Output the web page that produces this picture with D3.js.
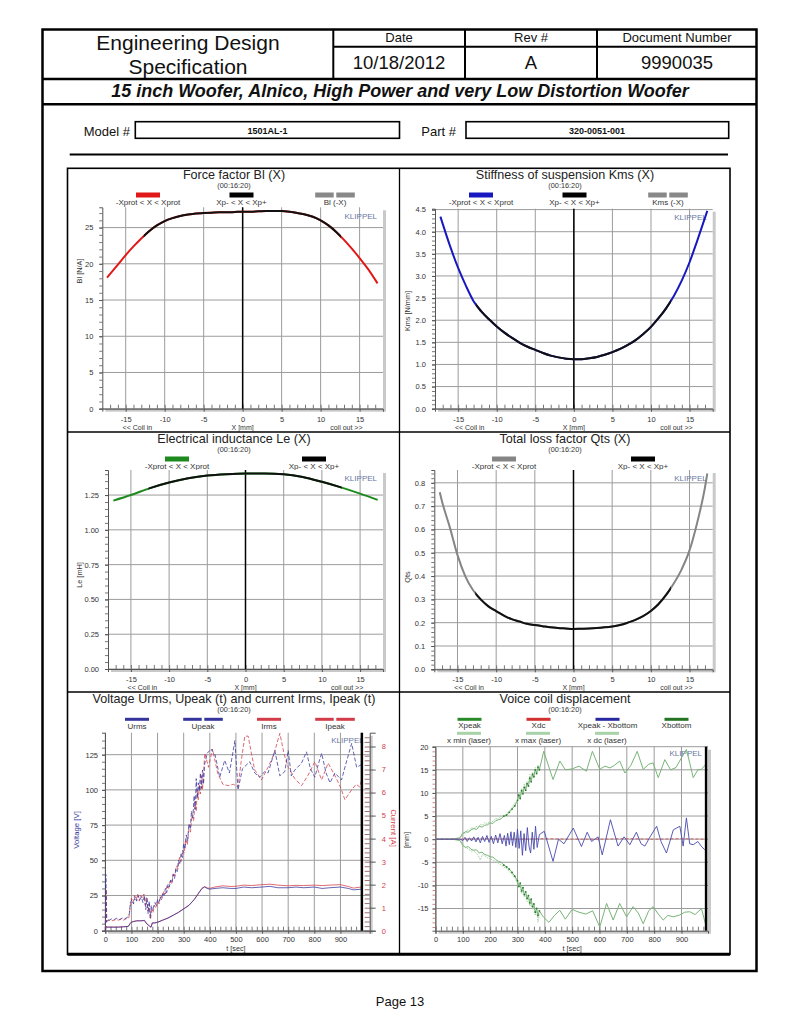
<!DOCTYPE html>
<html><head><meta charset="utf-8">
<script src="https://cdn.jsdelivr.net/npm/d3@7"></script>
<style>body{margin:0;background:#fff}svg{display:block}</style>
</head><body>
<script>
// ================= DATA =================
const headerTitle = ["Engineering Design", "Specification"];
const headerLabels = ["Date", "Rev #", "Document Number"];
const headerValues = ["10/18/2012", "A", "9990035"];
const docTitle = "15 inch Woofer, Alnico, High Power and very Low Distortion Woofer";
const modelNo = "1501AL-1";
const partNo = "320-0051-001";
const pageLabel = "Page 13";
const timestamp = "(00:16:20)";

const xTicksX = [-15, -10, -5, 0, 5, 10, 15];
const tTicks = [0, 100, 200, 300, 400, 500, 600, 700, 800, 900];
const xpRange = [-12.7, 12.6];   // Xp- .. Xp+ (black part of the curves)

// Force factor Bl(X)
const blX = [-17.4,-16,-15,-14,-13,-12,-11,-10,-9,-8,-7,-6,-5,-4,-3,-2,-1,0,1,2,3,4,5,6,7,8,9,10,11,12,13,14,15,16,17.3];
const blVals = [18.1,19.9,21.2,22.4,23.5,24.5,25.3,25.9,26.3,26.6,26.8,26.95,27.0,27.05,27.1,27.1,27.15,27.2,27.2,27.25,27.3,27.3,27.3,27.2,27.0,26.8,26.5,26.0,25.3,24.4,23.3,22.1,20.8,19.4,17.3];
const blTicks = [0, 5, 10, 15, 20, 25];

// Stiffness Kms(X)
const kmsX = [-17.3,-16,-15,-14,-13,-12,-11,-10,-9,-8,-7,-6,-5,-4,-3,-2,-1,0,1,2,3,4,5,6,7,8,9,10,11,12,13,14,15,16,17.3];
const kmsVals = [4.34,3.65,3.18,2.78,2.43,2.20,2.02,1.86,1.72,1.60,1.49,1.40,1.33,1.26,1.20,1.16,1.13,1.12,1.12,1.14,1.17,1.22,1.28,1.35,1.44,1.55,1.69,1.85,2.05,2.28,2.56,2.90,3.31,3.80,4.47];
const kmsTicks = [0, 0.5, 1.0, 1.5, 2.0, 2.5, 3.0, 3.5, 4.0, 4.5];

// Electrical inductance Le(X)
const leX = [-17.3,-15,-12.5,-10,-7.5,-5,-2.5,0,2.5,5,7.5,10,12.5,15,17.3];
const leVals = [1.21,1.25,1.30,1.34,1.37,1.39,1.40,1.405,1.405,1.40,1.38,1.345,1.305,1.26,1.215];
const leTicks = [0, 0.25, 0.5, 0.75, 1.0, 1.25];

// Total loss factor Qts(X)
const qtsX = [-17.3,-17,-16,-15,-14,-13,-12,-11,-10,-9,-8,-7,-6,-5,-4,-3,-2,-1,0,1,2,3,4,5,6,7,8,9,10,11,12,13,14,15,16,17,17.3];
const qtsVals = [0.76,0.72,0.61,0.49,0.40,0.34,0.30,0.27,0.25,0.23,0.215,0.205,0.195,0.19,0.185,0.18,0.177,0.175,0.173,0.174,0.175,0.177,0.18,0.184,0.19,0.20,0.212,0.228,0.25,0.28,0.32,0.37,0.43,0.51,0.63,0.78,0.84];
const qtsTicks = [0, 0.1, 0.2, 0.3, 0.4, 0.5, 0.6, 0.7, 0.8];

// Voltage / current vs time  [t sec, value]
const upeak = [[0,0],[2,40],[5,6],[8,8],[15,7.5],[25,8.5],[35,8],[45,9],[55,8],[65,9],[75,8.5],[85,9.5],[92,12],[96,20],[102,22],[108,19],[114,24],[120,21],[126,25],[132,22],[138,24],[144,20],[150,25],[155,15],[160,23],[164,12],[168,21],[172,9],[176,18],[180,14],[185,17],[190,20],[195,18],[200,22],[205,20],[210,24],[215,22],[220,27],[225,25],[230,30],[235,27],[240,33],[245,31],[250,36],[255,34],[260,40],[265,37],[270,44],[275,42],[280,50],[285,47],[290,55],[295,52],[300,62],[305,58],[310,68],[315,64],[320,76],[325,72],[330,85],[335,80],[340,96],[344,86],[348,108],[352,94],[356,105],[360,99],[364,112],[368,101],[372,114],[376,104],[380,118],[390,126],[405,129],[420,125],[438,109],[457,121],[475,112],[496,135],[508,100],[525,115],[553,120],[572,112],[591,109],[610,113],[623,112],[649,128],[668,110],[687,113],[700,128],[712,110],[725,114],[751,119],[770,127],[785,115],[802,109],[815,118],[828,126],[845,112],[860,105],[879,112],[904,107],[920,118],[943,133],[962,116],[981,118]];
const ipeak = [[0,0],[3,1.8],[6,0.43],[10,0.43],[20,0.46],[30,0.43],[40,0.49],[50,0.46],[60,0.49],[70,0.46],[80,0.52],[90,0.55],[95,0.98],[100,1.41],[106,1.22],[112,1.53],[118,1.35],[124,1.59],[130,1.29],[136,1.53],[142,1.41],[148,1.59],[153,1.10],[158,1.47],[163,0.86],[168,1.16],[173,0.49],[178,0.92],[183,0.80],[188,1.10],[194,0.98],[200,1.29],[206,1.16],[212,1.53],[218,1.41],[224,1.71],[230,1.59],[236,1.96],[242,1.84],[248,2.14],[254,2.02],[260,2.51],[266,2.39],[272,2.82],[278,2.69],[284,3.18],[290,3.0],[296,3.49],[302,3.37],[308,3.98],[314,3.73],[320,4.41],[326,4.28],[332,5.02],[338,4.77],[344,5.63],[348,5.2],[352,6.12],[356,5.69],[360,6.36],[364,5.94],[368,6.73],[372,6.12],[376,6.85],[381,7.71],[395,7.1],[410,7.89],[430,6.85],[450,6.36],[470,6.3],[490,6.36],[508,6.24],[520,7.34],[534,8.45],[547,8.45],[560,7.65],[572,6.98],[598,6.55],[623,7.1],[645,7.65],[668,8.57],[685,7.65],[700,7.1],[725,6.61],[751,6.3],[775,6.73],[802,7.34],[828,6.55],[853,7.28],[879,6.73],[900,6.24],[917,5.69],[943,6.12],[960,6.36],[974,6.24],[983,6.67]];
const urms = [[0,0],[3,3],[6,2.5],[10,2.5],[30,2.5],[50,2.5],[70,2.8],[88,3],[95,5],[100,6],[110,6.5],[120,7],[130,7],[140,7],[150,7.2],[158,5],[165,4],[170,3],[175,2.5],[180,5.5],[190,5.5],[200,6],[220,7.5],[240,9],[260,11],[280,13],[300,15.5],[320,18],[340,22],[355,26],[370,30],[380,31],[390,30],[400,29.5],[420,30],[450,30.5],[480,30],[500,30],[530,31],[560,30.5],[600,31],[630,31.5],[660,30.5],[700,30.5],[730,31],[760,30.5],[800,31],[830,30],[860,30.5],[900,31],[930,30],[950,29],[980,29.5]];
const irms = [[0,0],[3,0.2],[6,0.15],[10,0.16],[30,0.16],[50,0.16],[70,0.17],[88,0.19],[95,0.32],[100,0.38],[110,0.41],[120,0.43],[130,0.43],[140,0.44],[150,0.45],[158,0.31],[165,0.25],[170,0.2],[175,0.15],[180,0.34],[190,0.34],[200,0.37],[220,0.46],[240,0.55],[260,0.67],[280,0.8],[300,0.95],[320,1.1],[340,1.35],[355,1.6],[370,1.84],[380,1.92],[390,1.86],[400,1.84],[420,1.9],[450,1.95],[480,1.92],[500,1.93],[530,1.98],[560,1.96],[600,2.0],[630,2.02],[660,1.98],[700,1.95],[730,1.97],[760,1.96],[800,1.98],[830,1.96],[860,1.98],[900,2.0],[930,1.92],[950,1.85],[980,1.9]];
const voltTicks = [0, 25, 50, 75, 100, 125];
const currTicks = [0, 1, 2, 3, 4, 5, 6, 7, 8];
const endTimeV = 982;

// Voice coil displacement [t sec, mm]
const xpeak = [[0,0],[60,0],[90,0.3],[100,1.2],[110,1.6],[120,1.5],[130,2.0],[140,2.3],[150,2.1],[160,2.8],[170,2.6],[180,3.0],[190,3.1],[200,3.5],[210,3.4],[220,4.0],[230,4.2],[240,4.4],[250,5.0],[260,5.2],[270,5.8],[280,6.5],[290,7.2],[300,8.4],[305,9.5],[310,8.8],[315,10.5],[320,9.8],[325,11.2],[330,10.6],[335,12.0],[340,11.5],[345,13.2],[350,12.4],[355,14.0],[360,13.5],[365,15.0],[370,14.2],[375,15.6],[380,15.0],[396,19.0],[430,12.9],[455,16.9],[475,15.0],[500,15.2],[525,15.8],[552,14.7],[574,19.0],[601,15.1],[620,15.8],[638,15.4],[655,16.0],[674,16.9],[693,14.3],[715,16.0],[738,19.0],[760,15.1],[780,16.2],[796,16.5],[815,13.3],[839,17.2],[860,15.0],[880,15.5],[900,17.6],[918,19.4],[930,16.5],[943,13.3],[960,15.0],[973,15.1],[989,16.2]];
const xbottom = [[0,0],[60,0],[90,-0.3],[100,-1.2],[110,-1.8],[120,-1.6],[130,-2.2],[140,-2.4],[150,-2.3],[160,-3.0],[170,-2.8],[180,-3.3],[190,-3.5],[200,-3.8],[210,-3.9],[220,-4.4],[230,-4.8],[240,-5.0],[250,-5.6],[260,-6.0],[270,-6.5],[280,-7.2],[290,-8.0],[300,-9.0],[305,-10.2],[310,-9.5],[315,-11.2],[320,-10.5],[325,-12.0],[330,-11.4],[335,-12.8],[340,-12.2],[345,-13.8],[350,-13.0],[355,-14.6],[360,-14.0],[365,-15.8],[370,-15.0],[375,-16.5],[380,-15.5],[394,-16.8],[415,-18.0],[435,-16.5],[455,-15.4],[475,-17.3],[500,-15.2],[525,-15.8],[550,-16.2],[575,-15.5],[601,-19.0],[626,-13.9],[650,-17.5],[674,-13.9],[699,-16.8],[723,-14.6],[742,-16.0],[760,-18.3],[780,-15.5],[796,-14.6],[815,-16.2],[833,-17.5],[850,-16.5],[870,-16.8],[894,-16.4],[912,-15.8],[930,-15.7],[950,-16.3],[973,-15.0],[989,-18.6]];
const xdiff = [[0,0],[60,0],[90,0],[100,-0.3],[108,0.4],[116,-0.5],[124,0.3],[132,-0.4],[140,0.5],[148,-0.6],[156,0.4],[164,-0.8],[172,0.6],[180,-0.5],[188,0.8],[196,-0.7],[204,0.6],[212,-1.0],[220,0.9],[228,-0.8],[236,1.2],[244,-1.0],[252,0.8],[258,-1.5],[264,1.3],[270,-1.2],[276,1.6],[282,-1.4],[288,1.5],[294,-1.8],[300,2.2],[306,-2.0],[312,1.8],[318,-3.5],[324,1.2],[330,-2.5],[336,2.5],[342,-1.5],[348,-3.0],[354,1.5],[360,-2.2],[366,2.8],[372,-1.8],[380,1.0],[398,1.7],[430,-4.8],[450,0],[470,-1],[504,2.4],[534,-1.6],[555,1.5],[571,-0.5],[595,0.5],[610,-3.4],[640,4.2],[668,-1.5],[690,0.5],[711,-1.2],[735,1.5],[752,-1.0],[766,-1.5],[785,0.5],[809,2.8],[825,-0.5],[845,-3],[870,2],[894,2.8],[906,-1.5],[918,4.6],[930,-1.0],[943,-1.2],[960,-0.5],[972,-1.5],[985,-2.3]];
const xdc = [[0,0],[100,0],[200,0.1],[300,0],[400,0.1],[500,0],[600,0],[700,0.1],[800,0],[900,0.1],[990,0]];
const xmaxLaser = [[90,0.5],[100,1.5],[108,1.2],[116,2.0],[124,1.7],[132,2.5],[140,2.2],[148,2.8],[156,2.4],[164,3.2],[172,3.0],[180,3.6],[190,3.3],[200,4.0],[210,3.8],[220,4.5],[230,4.3],[240,5.0],[250,4.8],[260,5.5],[270,6.2],[280,6.8],[290,7.8],[300,8.0],[305,10],[310,9.0],[315,11],[320,10.2],[325,12],[330,11],[335,12.5],[340,12],[345,14],[350,12.8],[355,14.5],[360,13.8],[365,15.5],[370,14.5],[375,16],[380,15.2]];
const xminLaser = [[90,-0.5],[100,-1.5],[108,-1.8],[116,-2.0],[124,-2.3],[132,-2.6],[140,-2.5],[148,-3.0],[156,-3.5],[164,-4.5],[172,-3.3],[180,-3.6],[190,-4.0],[200,-4.2],[210,-4.6],[220,-4.8],[230,-5.2],[240,-5.6],[250,-6.0],[260,-6.4],[270,-7.0],[280,-7.6],[290,-8.4],[300,-9.5],[305,-10.5],[310,-10],[315,-11.8],[320,-11],[325,-12.5],[330,-12],[335,-13.5],[340,-12.8],[345,-14.5],[350,-13.6],[355,-15.2],[360,-14.5],[365,-16.5],[370,-15.5],[375,-18],[380,-16]];
const dispTicks = [-15, -10, -5, 0, 5, 10, 15, 20];
const endTimeD = 990;

// ================= DRAWING =================
const FONT = '"Liberation Sans", Arial, Helvetica, sans-serif';
const svg = d3.select('body').append('svg').attr('width', 800).attr('height', 1035)
  .attr('font-family', FONT);

function txt(parent, x, y, s, o = {}) {
  const t = parent.append('text').attr('x', x).attr('y', y).text(s)
    .attr('font-size', o.size || 10).attr('text-anchor', o.anchor || 'middle')
    .attr('fill', o.fill || '#111');
  if (o.weight) t.attr('font-weight', o.weight);
  if (o.style) t.attr('font-style', o.style);
  if (o.len) t.attr('textLength', o.len).attr('lengthAdjust', 'spacingAndGlyphs');
  if (o.rotate) t.attr('transform', `rotate(${o.rotate},${x},${y})`).attr('dominant-baseline', 'central');
  return t;
}
function ln(parent, x1, y1, x2, y2, w, c) {
  return parent.append('line').attr('x1', x1).attr('y1', y1).attr('x2', x2).attr('y2', y2)
    .attr('stroke', c || '#000').attr('stroke-width', w || 1);
}

// ---- page header ----
svg.append('rect').attr('x', 42.5).attr('y', 29.5).attr('width', 714).attr('height', 941.5)
  .attr('fill', 'none').attr('stroke', '#000').attr('stroke-width', 2.5);
[333.3, 465, 597].forEach(xv => ln(svg, xv, 29.5, xv, 79, 2));
ln(svg, 333.3, 46.7, 756.5, 46.7, 2);
ln(svg, 42.5, 79, 756.5, 79, 2.5);
ln(svg, 42.5, 104.3, 756.5, 104.3, 2.5);
txt(svg, 188, 50, headerTitle[0], {size: 21});
txt(svg, 188, 73.5, headerTitle[1], {size: 21});
const cellCx = [399, 531, 677];
headerLabels.forEach((s, i) => txt(svg, cellCx[i], 42.3, s, {size: 13}));
headerValues.forEach((s, i) => txt(svg, cellCx[i], 68.5, s, {size: 18.5}));
txt(svg, 400, 96.7, docTitle, {size: 18, weight: 'bold', style: 'italic'});

txt(svg, 130, 136, 'Model #', {size: 13, anchor: 'end'});
svg.append('rect').attr('x', 135.3).attr('y', 121.7).attr('width', 264.2).attr('height', 16.6)
  .attr('fill', 'none').attr('stroke', '#000').attr('stroke-width', 1.6);
txt(svg, 267.4, 133.6, modelNo, {size: 9, weight: 'bold'});
txt(svg, 456, 136, 'Part #', {size: 13, anchor: 'end'});
svg.append('rect').attr('x', 466).attr('y', 121.7).attr('width', 262.7).attr('height', 16.6)
  .attr('fill', 'none').attr('stroke', '#000').attr('stroke-width', 1.6);
txt(svg, 597, 133.6, partNo, {size: 9, weight: 'bold'});
ln(svg, 69.7, 154.5, 728, 154.5, 2);

// ---- chart box ----
svg.append('rect').attr('x', 67.5).attr('y', 168.3).attr('width', 662.5).attr('height', 786)
  .attr('fill', 'none').attr('stroke', '#000').attr('stroke-width', 1.6);
ln(svg, 67.5, 954.3, 730, 954.3, 3);
ln(svg, 399.5, 168.3, 399.5, 954.3, 1.3);
ln(svg, 67.5, 432, 730, 432, 1.3);
ln(svg, 67.5, 692, 730, 692, 1.3);
txt(svg, 400, 1006, pageLabel, {size: 13});

// ---- helpers for panels ----
const GRID = '#9c9c9c';
function frame(g, p) {
  g.append('rect').attr('x', p.x0 + 3).attr('y', p.y0 + 3).attr('width', p.x1 - p.x0).attr('height', p.y1 - p.y0).attr('fill', '#c9c9c9');
  g.append('rect').attr('x', p.x0).attr('y', p.y0).attr('width', p.x1 - p.x0).attr('height', p.y1 - p.y0).attr('fill', '#fff');
}
function styleAxis(sel, col) {
  sel.attr('font-family', FONT).attr('font-size', 7.5);
  sel.select('.domain').attr('stroke', '#555');
  sel.selectAll('.tick line').attr('stroke', '#555');
  sel.selectAll('.tick text').attr('fill', col || '#333');
}
function minor(g, axis, tr, col) {
  const a = g.append('g').attr('transform', tr).call(axis.tickFormat(''));
  a.select('.domain').remove();
  a.selectAll('line').attr('stroke', col || '#777');
}
function head(g, cx, top, title) {
  txt(g, cx, top + 10.6, title, {size: 12.6, fill: '#222'});
  txt(g, cx, top + 19.6, timestamp, {size: 7.3, fill: '#333'});
}
function legend(g, items, left, step, swY, lblY, swH) {
  items.forEach((it, i) => {
    const cx = left + step * i;
    if (it.color) {
      if (it.dash) {
        g.append('rect').attr('x', cx - 19.8).attr('y', swY - swH / 2).attr('width', 18.5).attr('height', swH).attr('fill', it.color);
        g.append('rect').attr('x', cx + 1.3).attr('y', swY - swH / 2).attr('width', 18.5).attr('height', swH).attr('fill', it.color);
      } else {
        g.append('rect').attr('x', cx - 12).attr('y', swY - swH / 2).attr('width', 24).attr('height', swH).attr('fill', it.color);
      }
    }
    txt(g, cx, lblY, it.label, {size: 8, fill: '#333'});
  });
}
function klippel(g, p, dy) {
  txt(g, p.x1 - 6, p.y0 + (dy || 11.4), 'KLIPPEL', {size: 8, anchor: 'end', fill: '#6a78a4'});
}

// ---- X panels ----
function xPanel(p) {
  const g = svg.append('g');
  head(g, p.cx, p.top, p.title);
  legend(g, p.legend, p.legLeft, p.legStep, p.top + 27, p.top + 36.5, 5);
  const x = d3.scaleLinear().domain([-18, 18]).range([p.x0, p.x1]);
  const y = d3.scaleLinear().domain([0, p.yMax]).range([p.y1, p.y0]);
  frame(g, p);
  g.append('g').selectAll('line').data(xTicksX).join('line')
    .attr('x1', d => x(d)).attr('x2', d => x(d)).attr('y1', p.y0).attr('y2', p.y1).attr('stroke', GRID);
  g.append('g').selectAll('line').data(p.yTicks).join('line')
    .attr('x1', p.x0).attr('x2', p.x1).attr('y1', d => y(d)).attr('y2', d => y(d)).attr('stroke', GRID);
  minor(g, d3.axisLeft(y).tickValues(d3.range(0, p.yMax, p.yMinor)).tickSize(3), `translate(${p.x0},0)`);
  minor(g, d3.axisBottom(x).tickValues(d3.range(-17, 18, 1)).tickSize(-4), `translate(0,${p.y1})`);
  styleAxis(g.append('g').attr('transform', `translate(${p.x0},0)`)
    .call(d3.axisLeft(y).tickValues(p.yTicks).tickSize(3).tickPadding(6).tickFormat(d => d.toFixed(p.dec))));
  styleAxis(g.append('g').attr('transform', `translate(0,${p.y1})`)
    .call(d3.axisBottom(x).tickValues(xTicksX).tickSize(3).tickPadding(4.5).tickFormat(d => String(d))));
  txt(g, p.ylx, p.yly, p.ylabel, {size: 7.3, rotate: -90, fill: '#333'});
  txt(g, x(-13.5), p.y1 + 21, '<< Coil in', {size: 7, fill: '#333'});
  txt(g, x(0), p.y1 + 21, 'X [mm]', {size: 7, fill: '#333'});
  txt(g, x(13.3), p.y1 + 21, 'coil out >>', {size: 7, fill: '#333'});
  klippel(g, p);
  // zero line
  ln(g, x(0), p.y0, x(0), p.y1, 1.5, '#000');
  const line = d3.line().x(d => x(d[0])).y(d => y(d[1])).curve(d3.curveMonotoneX);
  const pts = d3.zip(p.xs, p.vals);
  g.append('path').attr('d', line(pts)).attr('fill', 'none').attr('stroke', p.color).attr('stroke-width', 2);
  const id = 'clip' + p.id;
  g.append('clipPath').attr('id', id).append('rect')
    .attr('x', x(xpRange[0])).attr('y', p.y0 - 5).attr('width', x(xpRange[1]) - x(xpRange[0])).attr('height', p.y1 - p.y0 + 10);
  g.append('path').attr('d', line(pts)).attr('fill', 'none').attr('stroke', '#111').attr('stroke-width', 2)
    .attr('clip-path', `url(#${id})`);
}

const RED = '#e01818', BLUE = '#1818c0', GREEN = '#1c8a1c', GREYC = '#858585';
xPanel({id: 1, title: 'Force factor Bl (X)', cx: 234, top: 168, x0: 102.3, x1: 383, y0: 207.3, y1: 408.7,
  yMax: 27.8, yTicks: blTicks, yMinor: 1, dec: 0, xs: blX, vals: blVals, color: RED,
  ylabel: 'Bl [N/A]', ylx: 79, yly: 271, legLeft: 148, legStep: 93.5,
  legend: [{label: '-Xprot < X < Xprot', color: RED}, {label: 'Xp- < X < Xp+', color: '#000'}, {label: 'Bl (-X)', color: '#888', dash: true}]});
xPanel({id: 2, title: 'Stiffness of suspension Kms (X)', cx: 565, top: 168, x0: 435, x1: 712.7, y0: 208.7, y1: 408.7,
  yMax: 4.52, yTicks: kmsTicks, yMinor: 0.1, dec: 1, xs: kmsX, vals: kmsVals, color: BLUE,
  ylabel: 'Kms [N/mm]', ylx: 407, yly: 311, legLeft: 481, legStep: 93.5,
  legend: [{label: '-Xprot < X < Xprot', color: BLUE}, {label: 'Xp- < X < Xp+', color: '#000'}, {label: 'Kms (-X)', color: '#888', dash: true}]});
xPanel({id: 3, title: 'Electrical inductance Le (X)', cx: 234, top: 432, x0: 108, x1: 383, y0: 470, y1: 669,
  yMax: 1.43, yTicks: leTicks, yMinor: 0.05, dec: 2, xs: leX, vals: leVals, color: GREEN,
  ylabel: 'Le [mH]', ylx: 79, yly: 575, legLeft: 177, legStep: 137,
  legend: [{label: '-Xprot < X < Xprot', color: GREEN}, {label: 'Xp- < X < Xp+', color: '#000'}]});
xPanel({id: 4, title: 'Total loss factor Qts (X)', cx: 565, top: 432, x0: 434.3, x1: 712.7, y0: 470, y1: 669.3,
  yMax: 0.855, yTicks: qtsTicks, yMinor: 0.02, dec: 1, xs: qtsX, vals: qtsVals, color: GREYC,
  ylabel: 'Qts', ylx: 407, yly: 577, legLeft: 504, legStep: 139,
  legend: [{label: '-Xprot < X < Xprot', color: GREYC}, {label: 'Xp- < X < Xp+', color: '#000'}]});

// ---- Voltage / current panel ----
(function () {
  const p = {top: 692, cx: 234, x0: 105, x1: 369.7, y0: 732.7, y1: 930.7};
  const g = svg.append('g');
  const VB = '#34349c', IR = '#d23c48';
  head(g, p.cx, p.top, 'Voltage Urms, Upeak (t) and current Irms, Ipeak (t)');
  legend(g, [{label: 'Urms', color: VB}, {label: 'Upeak', color: VB, dash: true}, {label: 'Irms', color: IR}, {label: 'Ipeak', color: IR, dash: true}],
    137, 66, p.top + 27.3, p.top + 36.5, 3);
  const x = d3.scaleLinear().domain([0, 1012]).range([105.3, p.x1]);
  const yV = d3.scaleLinear().domain([0, 140.6]).range([p.y1, p.y0]);
  const yA = d3.scaleLinear().domain([0, 8.6]).range([p.y1, p.y0]);
  frame(g, p);
  g.append('g').selectAll('line').data(tTicks).join('line')
    .attr('x1', d => x(d)).attr('x2', d => x(d)).attr('y1', p.y0).attr('y2', p.y1).attr('stroke', GRID);
  g.append('g').selectAll('line').data(voltTicks).join('line')
    .attr('x1', p.x0).attr('x2', p.x1).attr('y1', d => yV(d)).attr('y2', d => yV(d)).attr('stroke', GRID);
  minor(g, d3.axisLeft(yV).tickValues(d3.range(0, 140, 5)).tickSize(3), `translate(${p.x0},0)`);
  minor(g, d3.axisBottom(x).tickValues(d3.range(0, 1000, 20)).tickSize(-4), `translate(0,${p.y1})`);
  minor(g, d3.axisRight(yA).tickValues(d3.range(0, 8.6, 0.2)).tickSize(-5), `translate(${p.x1},0)`, '#a07070');
  styleAxis(g.append('g').attr('transform', `translate(${p.x0},0)`)
    .call(d3.axisLeft(yV).tickValues(voltTicks).tickSize(3).tickPadding(4).tickFormat(d => String(d))));
  styleAxis(g.append('g').attr('transform', `translate(0,${p.y1})`)
    .call(d3.axisBottom(x).tickValues(tTicks).tickSize(3).tickPadding(3).tickFormat(d => String(d))));
  styleAxis(g.append('g').attr('transform', `translate(${p.x1},0)`)
    .call(d3.axisRight(yA).tickValues(currTicks).tickSize(6).tickPadding(6).tickFormat(d => String(d))), IR);
  txt(g, 76, 830, 'Voltage [V]', {size: 7.8, rotate: -90, fill: VB});
  txt(g, 393, 828, 'Current [A]', {size: 7.8, rotate: 90, fill: IR});
  txt(g, x(500), p.y1 + 20.3, 't [sec]', {size: 7.3, fill: '#333'});
  klippel(g, p, 10);
  const lv = d3.line().x(d => x(d[0])).y(d => yV(d[1]));
  const la = d3.line().x(d => x(d[0])).y(d => yA(d[1]));
  g.append('path').attr('d', la(ipeak)).attr('fill', 'none').attr('stroke', IR).attr('stroke-width', 0.9).attr('stroke-dasharray', '4,2').attr('opacity', 0.85);
  g.append('path').attr('d', lv(upeak)).attr('fill', 'none').attr('stroke', VB).attr('stroke-width', 0.9).attr('stroke-dasharray', '4,2').attr('opacity', 0.85);
  g.append('path').attr('d', la(irms)).attr('fill', 'none').attr('stroke', IR).attr('stroke-width', 0.9).attr('opacity', 0.85);
  g.append('path').attr('d', lv(urms)).attr('fill', 'none').attr('stroke', VB).attr('stroke-width', 0.9).attr('opacity', 0.85);
  ln(g, x(endTimeV), p.y0, x(endTimeV), p.y1, 2.5, '#000');
})();

// ---- Voice coil displacement panel ----
(function () {
  const p = {top: 692, cx: 565, x0: 435.5, x1: 708, y0: 746.7, y1: 930.7};
  const g = svg.append('g');
  const G1 = '#2a8a2a', LG = '#a8d2a8';
  head(g, p.cx, p.top, 'Voice coil displacement');
  legend(g, [{label: 'Xpeak', color: G1}, {label: 'Xdc', color: '#d03030'}, {label: 'Xpeak - Xbottom', color: '#2828a0'}, {label: 'Xbottom', color: '#247424'}],
    469.5, 69, p.top + 27.3, p.top + 36, 3);
  legend(g, [{label: 'x min (laser)', color: LG}, {label: 'x max (laser)', color: LG}, {label: 'x dc (laser)', color: LG}],
    469, 69, p.top + 41.3, p.top + 51, 3);
  const x = d3.scaleLinear().domain([0, 997]).range([p.x0, p.x1]);
  const y = d3.scaleLinear().domain([-19.8, 20]).range([p.y1, p.y0]);
  frame(g, p);
  g.append('g').selectAll('line').data(tTicks).join('line')
    .attr('x1', d => x(d)).attr('x2', d => x(d)).attr('y1', p.y0).attr('y2', p.y1).attr('stroke', GRID);
  g.append('g').selectAll('line').data(dispTicks).join('line')
    .attr('x1', p.x0).attr('x2', p.x1).attr('y1', d => y(d)).attr('y2', d => y(d)).attr('stroke', GRID);
  minor(g, d3.axisLeft(y).tickValues(d3.range(-19, 20.5, 1)).tickSize(3), `translate(${p.x0},0)`, '#c88');
  minor(g, d3.axisBottom(x).tickValues(d3.range(0, 1000, 20)).tickSize(-4), `translate(0,${p.y1})`);
  styleAxis(g.append('g').attr('transform', `translate(${p.x0},0)`)
    .call(d3.axisLeft(y).tickValues(dispTicks).tickSize(3).tickPadding(4).tickFormat(d => String(d))));
  styleAxis(g.append('g').attr('transform', `translate(0,${p.y1})`)
    .call(d3.axisBottom(x).tickValues(tTicks).tickSize(3).tickPadding(3).tickFormat(d => String(d))));
  txt(g, 406, 840, '[mm]', {size: 7.3, rotate: -90, fill: '#333'});
  txt(g, x(500), p.y1 + 20.3, 't [sec]', {size: 7.3, fill: '#333'});
  klippel(g, p, 8.8);
  const l = d3.line().x(d => x(d[0])).y(d => y(d[1]));
  g.append('path').attr('d', l(xmaxLaser)).attr('fill', 'none').attr('stroke', LG).attr('stroke-width', 1).attr('stroke-dasharray', '1.5,1');
  g.append('path').attr('d', l(xminLaser)).attr('fill', 'none').attr('stroke', LG).attr('stroke-width', 1).attr('stroke-dasharray', '1.5,1');
  g.append('path').attr('d', l(xpeak)).attr('fill', 'none').attr('stroke', '#78b478').attr('stroke-width', 1);
  g.append('path').attr('d', l(xbottom)).attr('fill', 'none').attr('stroke', '#78b478').attr('stroke-width', 1);
  g.append('g').selectAll('circle').data(xpeak.concat(xbottom).filter(d => d[0] >= 250 && d[0] <= 385)).join('circle')
    .attr('cx', d => x(d[0])).attr('cy', d => y(d[1])).attr('r', 0.9).attr('fill', '#2a7a2a');
  g.append('path').attr('d', l(xdc)).attr('fill', 'none').attr('stroke', '#d06060').attr('stroke-width', 1).attr('stroke-dasharray', '3,2');
  g.append('path').attr('d', l(xdiff)).attr('fill', 'none').attr('stroke', '#4848b0').attr('stroke-width', 0.9);
  ln(g, x(endTimeD), p.y0, x(endTimeD), p.y1, 2.5, '#000');
})();
</script>
</body></html>
